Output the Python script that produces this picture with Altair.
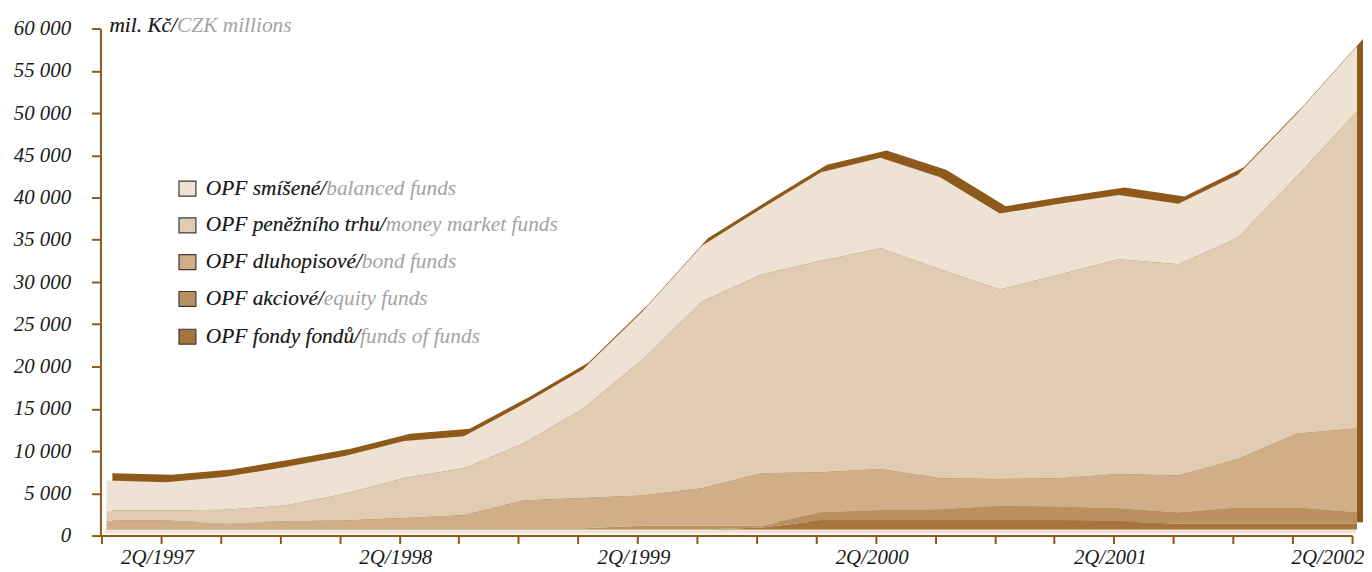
import altair as alt
import pandas as pd

quarters = ["1Q/1997", "2Q/1997", "3Q/1997", "4Q/1997",
            "1Q/1998", "2Q/1998", "3Q/1998", "4Q/1998",
            "1Q/1999", "2Q/1999", "3Q/1999", "4Q/1999",
            "1Q/2000", "2Q/2000", "3Q/2000", "4Q/2000",
            "1Q/2001", "2Q/2001", "3Q/2001", "4Q/2001",
            "1Q/2002", "2Q/2002"]

# CZK millions
funds_of_funds = [0, 0, 0, 0, 0, 0, 0, 0, 0, 0, 0,
                  250, 1090, 1090, 1090, 1090, 1090, 980, 700, 700, 700, 700]
equity = [150, 150, 150, 150, 150, 150, 150, 150, 150, 450, 450,
          200, 910, 1180, 1260, 1660, 1580, 1490, 1260, 1850, 1850, 1300]
bond = [940, 940, 600, 830, 940, 1220, 1540, 3300, 3580, 3590, 4450,
        6220, 4780, 4910, 3730, 3250, 3410, 4120, 4430, 5800, 8820, 9960]
money_market = [1180, 1180, 1600, 1880, 3150, 4730, 5570, 6750, 10570, 16060, 22100,
                23530, 25020, 26120, 24720, 22400, 24120, 25410, 25010, 26200, 30530, 37540]
balanced = [3530, 3340, 3890, 4550, 4470, 4370, 3800, 4620, 4640, 5700, 6600,
            7800, 10500, 10700, 10900, 9000, 8350, 7600, 7150, 7450, 7400, 7700]

series_names = ["OPF fondy fondů", "OPF akciové", "OPF dluhopisové",
                "OPF peněžního trhu", "OPF smíšené"]
series_values = [funds_of_funds, equity, bond, money_market, balanced]
series_colors = ["#A6753D", "#BB9060", "#CFAE88", "#E0CCB2", "#EDE2D3"]

legend_czech = ["OPF smíšené/", "OPF peněžního trhu/", "OPF dluhopisové/",
                "OPF akciové/", "OPF fondy fondů/"]
legend_english = ["balanced funds", "money market funds", "bond funds",
                  "equity funds", "funds of funds"]
legend_colors = ["#EDE2D3", "#E0CCB2", "#CFAE88", "#BB9060", "#A6753D"]

y_ticks = [0, 5000, 10000, 15000, 20000, 25000, 30000,
           35000, 40000, 45000, 50000, 55000, 60000]

title_czech = "mil. Kč/"
title_english = "CZK millions"

BROWN = "#8E5A1C"
TEXT = "#1a1a1a"
GRAY = "#A3A3A3"
FONT = "Liberation Serif"

rows = []
for i, (name, vals) in enumerate(zip(series_names, series_values)):
    for q, v in zip(quarters, vals):
        rows.append({"quarter": q, "series": name, "order": i, "value": v})
df = pd.DataFrame(rows)
totals = pd.DataFrame({
    "quarter": quarters,
    "total": [sum(s[k] for s in series_values) for k in range(len(quarters))],
})
one = pd.DataFrame({"a": [0]})

x_axis = alt.Axis(
    title=None, grid=False, labelAngle=0, labelOverlap=False,
    labelExpr="indexof(datum.value, '2Q') == 0 ? datum.value : ''",
    domainColor=BROWN, domainWidth=2, tickColor=BROWN, tickWidth=2, tickSize=8,
    labelFont=FONT, labelFontStyle="italic", labelFontSize=21, labelColor=TEXT,
    labelPadding=3, labelOffset=-4, labelFlush=True, labelFlushOffset=16,
)
y_axis = alt.Axis(
    title=None, grid=False, values=y_ticks,
    labelExpr="replace(format(datum.value, ','), ',', ' ')",
    domainColor=BROWN, domainWidth=2, tickColor=BROWN, tickWidth=2, tickSize=9,
    labelFont=FONT, labelFontStyle="italic", labelFontSize=21, labelColor=TEXT,
    labelPadding=21, offset=1,
)
x_enc = alt.X("quarter:N", sort=quarters,
              scale=alt.Scale(type="point", padding=0), axis=x_axis)
y_scale = alt.Scale(domain=[0, 60000], nice=False)

back = alt.Chart(totals).mark_area(
    color=BROWN, xOffset=11, yOffset=-13.4, y2Offset=-13.4
).encode(
    x=x_enc,
    y=alt.Y("total:Q", scale=y_scale, axis=y_axis),
)

floor = alt.Chart(one).mark_rect(color="#EEE4D6").encode(
    x=alt.value(3), x2=alt.value(1262), y=alt.value(504), y2=alt.value(508)
)

front = alt.Chart(df).mark_area(
    xOffset=5, yOffset=-6, y2Offset=-6
).encode(
    x=x_enc,
    y=alt.Y("value:Q", stack="zero", scale=y_scale, axis=y_axis),
    color=alt.Color("series:N", scale=alt.Scale(domain=series_names, range=series_colors),
                    legend=None),
    order=alt.Order("order:Q", sort="ascending"),
)

layers = [back, floor, front]

# axis unit title
layers.append(alt.Chart(one).mark_text(
    font=FONT, fontStyle="italic", fontSize=21.5, color=GRAY, align="left", baseline="middle"
).encode(x=alt.value(8), y=alt.value(-3), text=alt.value(title_czech + title_english)))
layers.append(alt.Chart(one).mark_text(
    font=FONT, fontStyle="italic", fontSize=21.5, color=TEXT, align="left", baseline="middle"
).encode(x=alt.value(8), y=alt.value(-3), text=alt.value(title_czech)))

# legend drawn by hand (two-coloured labels)
legend_y = [161, 198, 235, 272, 310]
for cz, en, col, yy in zip(legend_czech, legend_english, legend_colors, legend_y):
    layers.append(alt.Chart(one).mark_rect(color=col, stroke="#3a3a3a", strokeWidth=1.2).encode(
        x=alt.value(78), x2=alt.value(95), y=alt.value(yy - 7.5), y2=alt.value(yy + 7.5)))
    layers.append(alt.Chart(one).mark_text(
        font=FONT, fontStyle="italic", fontSize=21.5, color=GRAY, align="left", baseline="middle"
    ).encode(x=alt.value(105), y=alt.value(yy), text=alt.value(cz + en)))
    layers.append(alt.Chart(one).mark_text(
        font=FONT, fontStyle="italic", fontSize=21.5, color=TEXT, align="left", baseline="middle"
    ).encode(x=alt.value(105), y=alt.value(yy), text=alt.value(cz)))

chart = alt.layer(*layers).properties(
    width=1258, height=510,
    background="white",
    autosize=alt.AutoSizeParams(type="none"),
    padding={"left": 94, "top": 19, "right": 12, "bottom": 35},
).configure_view(stroke=None)

chart.save("out.html", embed_options={"renderer": "svg", "actions": False})
